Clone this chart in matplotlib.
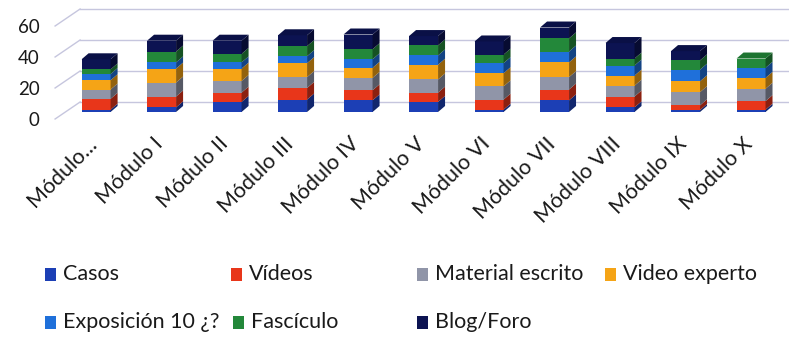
import matplotlib
matplotlib.use('Agg')
import matplotlib.pyplot as plt
from matplotlib.patches import Polygon, Rectangle
from matplotlib.transforms import ScaledTranslation
import matplotlib.colors as mcolors
import numpy as np

plt.rcParams['font.family'] = ['Lato', 'DejaVu Sans']

categories = ['Módulo...', 'Módulo I', 'Módulo II', 'Módulo III', 'Módulo IV', 'Módulo V',
              'Módulo VI', 'Módulo VII', 'Módulo VIII', 'Módulo IX', 'Módulo X']
casos         = [1.5, 3.0, 6.5, 8.0, 7.5, 6.5, 1.5, 7.5, 3.0, 1.3, 1.5]
videos        = [7.0, 7.0, 6.0, 7.5, 6.5, 6.0, 6.5, 7.0, 7.0, 3.0, 5.5]
material      = [6.0, 9.0, 7.5, 7.0, 8.0, 8.5, 8.5, 8.0, 7.0, 8.5, 8.0]
video_experto = [6.0, 9.0, 8.0, 9.0, 6.5, 9.5, 8.5, 9.5, 6.5, 7.0, 7.0]
exposicion    = [4.0, 4.0, 4.0, 4.5, 5.5, 6.0, 6.5, 7.0, 6.5, 7.5, 6.5]
fasciculo     = [3.0, 7.0, 5.5, 6.5, 6.5, 6.5, 5.5, 8.5, 4.5, 6.0, 6.0]
blog          = [6.5, 7.0, 8.5, 7.0, 9.5, 6.0, 8.5, 7.0, 10.0, 6.0, 0.0]

series_names = ['Casos', 'Vídeos', 'Material escrito', 'Video experto',
                'Exposición 10 ¿?', 'Fascículo', 'Blog/Foro']
series_vals = [casos, videos, material, video_experto, exposicion, fasciculo, blog]
colors = ['#1C3FB5', '#E8361A', '#9095A8', '#F5A416', '#1F70DA', '#23883A', '#0C1352']
yticks = [0, 20, 40, 60]

W, H = 789, 339
fig = plt.figure(figsize=(W / 100, H / 100), dpi=100)
ax_left, ax_right = 45, 789
ax_top, ax_bot = 3.5, 121.3
ax = fig.add_axes([ax_left / W, 1 - ax_bot / H, (ax_right - ax_left) / W, (ax_bot - ax_top) / H])
xlim = (-0.78, 10.58)
ylim = (-6, 70)
ax.set_xlim(*xlim)
ax.set_ylim(*ylim)
pxx = (ax_right - ax_left) / (xlim[1] - xlim[0])   # px per x unit
pxy = (ax_bot - ax_top) / (ylim[1] - ylim[0])       # px per y unit

# back wall gridlines with left side-wall diagonal
grid_c = '#C6C6DE'
for v in yticks:
    yb = v + 10 / pxy
    yf = v - 7 / pxy
    xb = -16 / pxx
    xf = -41 / pxx
    ax.plot([xf, xb], [yf, yb], color=grid_c, lw=1.0, zorder=1, clip_on=False)
    ax.plot([xb, xlim[1] + 1], [yb, yb], color=grid_c, lw=1.0, zorder=1, clip_on=False)

x = np.arange(len(categories))
w = 29 / pxx
ddx = 7 / pxx
ddy = 6 / pxy


def shade(c, f):
    r, g, b = mcolors.to_rgb(c)
    return (r * f, g * f, b * f)


bottom = np.zeros(len(categories))
for name, vals, c in zip(series_names, series_vals, colors):
    vals = np.array(vals, dtype=float)
    ax.bar(x, vals, bottom=bottom, width=w, color=c, zorder=3, linewidth=0, label=name)
    for i in range(len(x)):
        if vals[i] <= 0:
            continue
        b0 = bottom[i]
        b1 = b0 + vals[i]
        xr = x[i] + w / 2
        ax.add_patch(Polygon([(xr, b0), (xr + ddx, b0 + ddy), (xr + ddx, b1 + ddy), (xr, b1)],
                             closed=True, color=shade(c, 0.6), lw=0, zorder=3))
    bottom = bottom + vals

tops = bottom
for i in range(len(x)):
    top_c = colors[0]
    for vals, c in zip(series_vals, colors):
        if vals[i] > 0:
            top_c = c
    t = tops[i]
    xl, xr = x[i] - w / 2, x[i] + w / 2
    ax.add_patch(Polygon([(xl, t), (xr, t), (xr + ddx, t + ddy), (xl + ddx, t + ddy)],
                         closed=True, color=shade(top_c, 0.85), lw=0, zorder=4))

for s in ax.spines.values():
    s.set_visible(False)
ax.set_yticks(yticks)
ax.set_yticklabels([str(v) for v in yticks], fontsize=13.5, color='#1a1a1a')
ax.tick_params(axis='y', length=0, pad=4)
for lab in ax.get_yticklabels():
    lab.set_transform(lab.get_transform() + ScaledTranslation(0, -7 / 100, fig.dpi_scale_trans))

ax.set_xticks(x)
ax.set_xticklabels(categories, fontsize=15.5, rotation=45, ha='right', va='center',
                   rotation_mode='anchor', color='#1a1a1a')
ax.tick_params(axis='x', length=0, pad=14)
for lab in ax.get_xticklabels():
    lab.set_transform(lab.get_transform() + ScaledTranslation(-2 / 100, 0, fig.dpi_scale_trans))

# legend, laid out as in the reference
leg_pos = [(45, 274), (231, 274), (417, 274), (605, 274),
           (45, 322), (233, 322), (417, 322)]
for (lx, ly), name, c in zip(leg_pos, series_names, colors):
    fig.add_artist(Rectangle((lx / W, 1 - (ly + 7) / H), 11 / W, 13 / H,
                             transform=fig.transFigure, color=c, lw=0))
    fig.text((lx + 18) / W, 1 - ly / H, name, fontsize=15.5, va='center', ha='left',
             color='#1a1a1a')

fig.savefig('out.png', dpi=100)
